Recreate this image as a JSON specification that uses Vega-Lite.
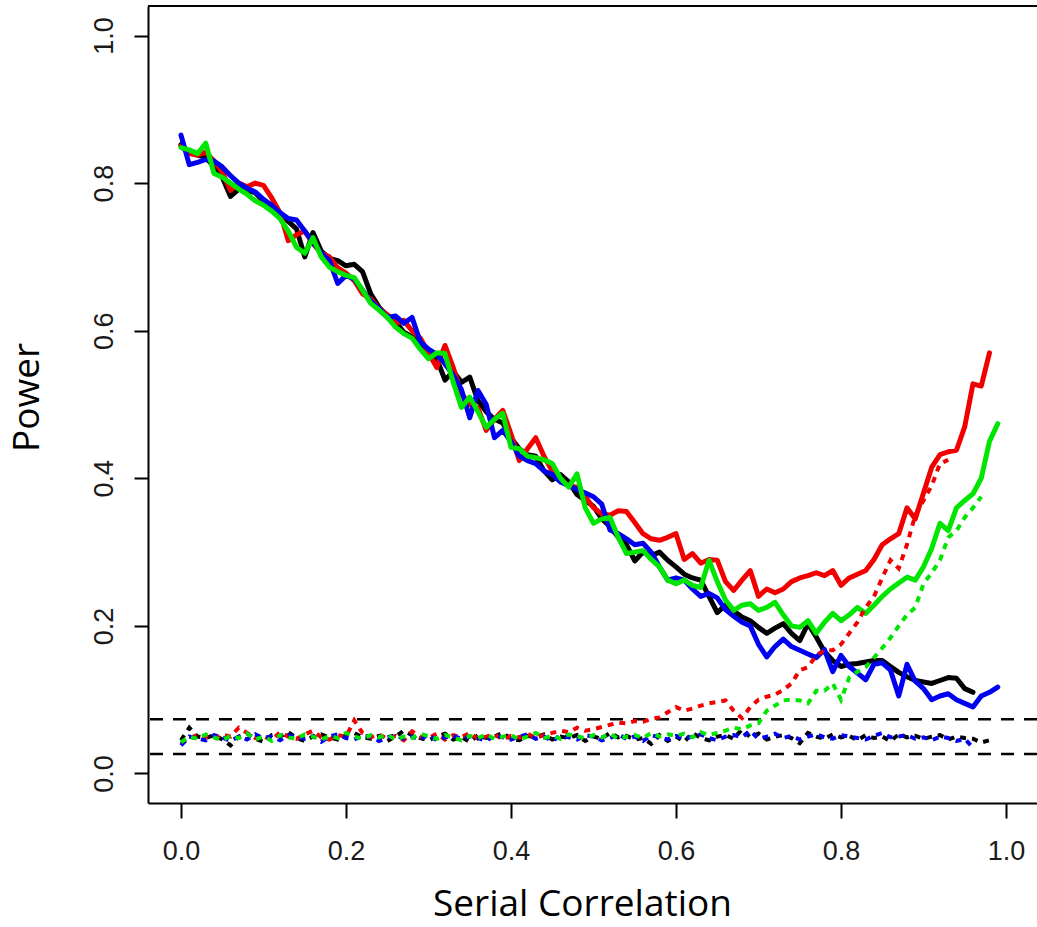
{
"$schema": "https://vega.github.io/schema/vega-lite/v6.json",
"width": 889, "height": 797,
"autosize": {"type": "none"},
"padding": {"left": 148, "top": 6, "right": 0, "bottom": 124},
"background": "white",
"config": {"view": {"stroke": null},
  "axis": {"grid": false, "domainColor": "black", "domainWidth": 2, "tickColor": "black", "tickWidth": 2,
    "labelFont": "Liberation Sans", "labelFontSize": 27, "labelColor": "#1a1a1a",
    "titleFont": "Open Sans", "titleFontSize": 37, "titleFontWeight": "normal", "titleColor": "black"}},
"datasets": {
"bounds": [{"h": 0.0265}, {"h": 0.0735}],
"sim": [
{"x":0.00,"k":0.852,"r":0.850,"b":0.865,"g":0.848,"kd":0.045,"rd":0.040,"bd":0.038,"gd":0.042},
{"x":0.01,"k":0.842,"r":0.840,"b":0.825,"g":0.845,"kd":0.062,"rd":0.048,"bd":0.050,"gd":0.050},
{"x":0.02,"k":0.838,"r":0.838,"b":0.828,"g":0.840,"kd":0.050,"rd":0.052,"bd":0.047,"gd":0.047},
{"x":0.03,"k":0.835,"r":0.842,"b":0.832,"g":0.854,"kd":0.048,"rd":0.050,"bd":0.045,"gd":0.053},
{"x":0.04,"k":0.822,"r":0.830,"b":0.830,"g":0.813,"kd":0.052,"rd":0.047,"bd":0.052,"gd":0.049},
{"x":0.05,"k":0.808,"r":0.815,"b":0.822,"g":0.808,"kd":0.046,"rd":0.053,"bd":0.049,"gd":0.045},
{"x":0.06,"k":0.782,"r":0.790,"b":0.810,"g":0.800,"kd":0.038,"rd":0.050,"bd":0.044,"gd":0.051},
{"x":0.07,"k":0.792,"r":0.800,"b":0.800,"g":0.792,"kd":0.050,"rd":0.062,"bd":0.050,"gd":0.048},
{"x":0.08,"k":0.790,"r":0.795,"b":0.793,"g":0.785,"kd":0.054,"rd":0.055,"bd":0.046,"gd":0.054},
{"x":0.09,"k":0.787,"r":0.800,"b":0.788,"g":0.776,"kd":0.047,"rd":0.048,"bd":0.053,"gd":0.046},
{"x":0.10,"k":0.775,"r":0.797,"b":0.778,"g":0.770,"kd":0.043,"rd":0.051,"bd":0.048,"gd":0.050},
{"x":0.11,"k":0.768,"r":0.780,"b":0.770,"g":0.762,"kd":0.052,"rd":0.045,"bd":0.050,"gd":0.044},
{"x":0.12,"k":0.758,"r":0.760,"b":0.760,"g":0.752,"kd":0.050,"rd":0.056,"bd":0.045,"gd":0.052},
{"x":0.13,"k":0.748,"r":0.722,"b":0.752,"g":0.735,"kd":0.056,"rd":0.050,"bd":0.052,"gd":0.049},
{"x":0.14,"k":0.738,"r":0.730,"b":0.750,"g":0.713,"kd":0.048,"rd":0.047,"bd":0.049,"gd":0.047},
{"x":0.15,"k":0.700,"r":0.735,"b":0.735,"g":0.705,"kd":0.044,"rd":0.053,"bd":0.047,"gd":0.053},
{"x":0.16,"k":0.733,"r":0.718,"b":0.720,"g":0.726,"kd":0.050,"rd":0.058,"bd":0.051,"gd":0.050},
{"x":0.17,"k":0.708,"r":0.705,"b":0.705,"g":0.700,"kd":0.053,"rd":0.049,"bd":0.043,"gd":0.046},
{"x":0.18,"k":0.698,"r":0.700,"b":0.695,"g":0.686,"kd":0.049,"rd":0.046,"bd":0.050,"gd":0.051},
{"x":0.19,"k":0.695,"r":0.685,"b":0.664,"g":0.680,"kd":0.046,"rd":0.052,"bd":0.053,"gd":0.048},
{"x":0.20,"k":0.688,"r":0.678,"b":0.675,"g":0.675,"kd":0.052,"rd":0.050,"bd":0.048,"gd":0.055},
{"x":0.21,"k":0.690,"r":0.668,"b":0.670,"g":0.672,"kd":0.055,"rd":0.072,"bd":0.046,"gd":0.050},
{"x":0.22,"k":0.680,"r":0.650,"b":0.655,"g":0.655,"kd":0.049,"rd":0.055,"bd":0.051,"gd":0.047},
{"x":0.23,"k":0.650,"r":0.643,"b":0.640,"g":0.637,"kd":0.047,"rd":0.049,"bd":0.050,"gd":0.052},
{"x":0.24,"k":0.632,"r":0.630,"b":0.630,"g":0.628,"kd":0.051,"rd":0.053,"bd":0.044,"gd":0.049},
{"x":0.25,"k":0.620,"r":0.622,"b":0.618,"g":0.618,"kd":0.044,"rd":0.047,"bd":0.049,"gd":0.053},
{"x":0.26,"k":0.612,"r":0.610,"b":0.620,"g":0.605,"kd":0.050,"rd":0.051,"bd":0.052,"gd":0.046},
{"x":0.27,"k":0.598,"r":0.614,"b":0.610,"g":0.596,"kd":0.058,"rd":0.045,"bd":0.047,"gd":0.050},
{"x":0.28,"k":0.592,"r":0.600,"b":0.618,"g":0.590,"kd":0.052,"rd":0.057,"bd":0.050,"gd":0.048},
{"x":0.29,"k":0.580,"r":0.590,"b":0.585,"g":0.575,"kd":0.048,"rd":0.050,"bd":0.046,"gd":0.054},
{"x":0.30,"k":0.570,"r":0.570,"b":0.575,"g":0.562,"kd":0.045,"rd":0.048,"bd":0.053,"gd":0.050},
{"x":0.31,"k":0.562,"r":0.550,"b":0.568,"g":0.570,"kd":0.050,"rd":0.054,"bd":0.045,"gd":0.047},
{"x":0.32,"k":0.533,"r":0.580,"b":0.555,"g":0.569,"kd":0.054,"rd":0.046,"bd":0.049,"gd":0.052},
{"x":0.33,"k":0.545,"r":0.550,"b":0.540,"g":0.530,"kd":0.046,"rd":0.052,"bd":0.051,"gd":0.049},
{"x":0.34,"k":0.530,"r":0.515,"b":0.520,"g":0.496,"kd":0.049,"rd":0.049,"bd":0.047,"gd":0.045},
{"x":0.35,"k":0.537,"r":0.500,"b":0.482,"g":0.510,"kd":0.043,"rd":0.055,"bd":0.050,"gd":0.051},
{"x":0.36,"k":0.505,"r":0.495,"b":0.519,"g":0.490,"kd":0.052,"rd":0.047,"bd":0.048,"gd":0.048},
{"x":0.37,"k":0.490,"r":0.465,"b":0.500,"g":0.469,"kd":0.048,"rd":0.050,"bd":0.044,"gd":0.053},
{"x":0.38,"k":0.480,"r":0.480,"b":0.455,"g":0.480,"kd":0.050,"rd":0.053,"bd":0.052,"gd":0.047},
{"x":0.39,"k":0.475,"r":0.492,"b":0.465,"g":0.488,"kd":0.055,"rd":0.046,"bd":0.049,"gd":0.050},
{"x":0.40,"k":0.455,"r":0.460,"b":0.450,"g":0.442,"kd":0.047,"rd":0.051,"bd":0.046,"gd":0.052},
{"x":0.41,"k":0.440,"r":0.424,"b":0.430,"g":0.440,"kd":0.045,"rd":0.049,"bd":0.050,"gd":0.046},
{"x":0.42,"k":0.432,"r":0.440,"b":0.424,"g":0.430,"kd":0.051,"rd":0.054,"bd":0.053,"gd":0.050},
{"x":0.43,"k":0.430,"r":0.455,"b":0.420,"g":0.428,"kd":0.049,"rd":0.048,"bd":0.047,"gd":0.055},
{"x":0.44,"k":0.410,"r":0.430,"b":0.410,"g":0.425,"kd":0.053,"rd":0.052,"bd":0.050,"gd":0.048},
{"x":0.45,"k":0.398,"r":0.410,"b":0.405,"g":0.420,"kd":0.046,"rd":0.055,"bd":0.044,"gd":0.051},
{"x":0.46,"k":0.405,"r":0.397,"b":0.395,"g":0.400,"kd":0.050,"rd":0.058,"bd":0.051,"gd":0.047},
{"x":0.47,"k":0.395,"r":0.390,"b":0.390,"g":0.388,"kd":0.048,"rd":0.056,"bd":0.049,"gd":0.053},
{"x":0.48,"k":0.378,"r":0.388,"b":0.385,"g":0.406,"kd":0.052,"rd":0.062,"bd":0.046,"gd":0.050},
{"x":0.49,"k":0.370,"r":0.375,"b":0.380,"g":0.360,"kd":0.044,"rd":0.058,"bd":0.052,"gd":0.048},
{"x":0.50,"k":0.362,"r":0.360,"b":0.375,"g":0.339,"kd":0.050,"rd":0.060,"bd":0.050,"gd":0.052},
{"x":0.51,"k":0.345,"r":0.352,"b":0.365,"g":0.345,"kd":0.047,"rd":0.063,"bd":0.045,"gd":0.049},
{"x":0.52,"k":0.335,"r":0.350,"b":0.330,"g":0.347,"kd":0.055,"rd":0.066,"bd":0.048,"gd":0.054},
{"x":0.53,"k":0.320,"r":0.356,"b":0.325,"g":0.320,"kd":0.049,"rd":0.069,"bd":0.053,"gd":0.047},
{"x":0.54,"k":0.310,"r":0.355,"b":0.318,"g":0.298,"kd":0.051,"rd":0.068,"bd":0.047,"gd":0.050},
{"x":0.55,"k":0.288,"r":0.340,"b":0.310,"g":0.300,"kd":0.046,"rd":0.071,"bd":0.050,"gd":0.052},
{"x":0.56,"k":0.300,"r":0.325,"b":0.312,"g":0.302,"kd":0.048,"rd":0.070,"bd":0.044,"gd":0.048},
{"x":0.57,"k":0.295,"r":0.318,"b":0.300,"g":0.290,"kd":0.040,"rd":0.074,"bd":0.052,"gd":0.055},
{"x":0.58,"k":0.300,"r":0.316,"b":0.280,"g":0.280,"kd":0.052,"rd":0.076,"bd":0.049,"gd":0.050},
{"x":0.59,"k":0.289,"r":0.320,"b":0.262,"g":0.262,"kd":0.044,"rd":0.083,"bd":0.046,"gd":0.053},
{"x":0.60,"k":0.280,"r":0.325,"b":0.265,"g":0.257,"kd":0.050,"rd":0.090,"bd":0.051,"gd":0.051},
{"x":0.61,"k":0.270,"r":0.290,"b":0.262,"g":0.262,"kd":0.043,"rd":0.085,"bd":0.047,"gd":0.054},
{"x":0.62,"k":0.265,"r":0.298,"b":0.250,"g":0.255,"kd":0.055,"rd":0.088,"bd":0.050,"gd":0.049},
{"x":0.63,"k":0.262,"r":0.285,"b":0.240,"g":0.252,"kd":0.048,"rd":0.092,"bd":0.053,"gd":0.056},
{"x":0.64,"k":0.240,"r":0.290,"b":0.244,"g":0.289,"kd":0.045,"rd":0.095,"bd":0.048,"gd":0.052},
{"x":0.65,"k":0.218,"r":0.289,"b":0.238,"g":0.260,"kd":0.050,"rd":0.097,"bd":0.045,"gd":0.055},
{"x":0.66,"k":0.228,"r":0.260,"b":0.222,"g":0.235,"kd":0.052,"rd":0.099,"bd":0.050,"gd":0.058},
{"x":0.67,"k":0.220,"r":0.248,"b":0.213,"g":0.221,"kd":0.047,"rd":0.085,"bd":0.052,"gd":0.062},
{"x":0.68,"k":0.212,"r":0.262,"b":0.205,"g":0.228,"kd":0.060,"rd":0.075,"bd":0.049,"gd":0.060},
{"x":0.69,"k":0.207,"r":0.275,"b":0.200,"g":0.230,"kd":0.049,"rd":0.090,"bd":0.058,"gd":0.065},
{"x":0.70,"k":0.198,"r":0.240,"b":0.175,"g":0.221,"kd":0.054,"rd":0.100,"bd":0.047,"gd":0.068},
{"x":0.71,"k":0.190,"r":0.250,"b":0.158,"g":0.225,"kd":0.046,"rd":0.104,"bd":0.050,"gd":0.085},
{"x":0.72,"k":0.197,"r":0.245,"b":0.172,"g":0.232,"kd":0.050,"rd":0.107,"bd":0.054,"gd":0.092},
{"x":0.73,"k":0.203,"r":0.250,"b":0.182,"g":0.215,"kd":0.052,"rd":0.113,"bd":0.048,"gd":0.099},
{"x":0.74,"k":0.190,"r":0.260,"b":0.172,"g":0.200,"kd":0.048,"rd":0.122,"bd":0.051,"gd":0.100},
{"x":0.75,"k":0.180,"r":0.265,"b":0.167,"g":0.198,"kd":0.041,"rd":0.140,"bd":0.046,"gd":0.099},
{"x":0.76,"k":0.203,"r":0.268,"b":0.162,"g":0.207,"kd":0.055,"rd":0.144,"bd":0.050,"gd":0.095},
{"x":0.77,"k":0.185,"r":0.272,"b":0.157,"g":0.190,"kd":0.050,"rd":0.160,"bd":0.053,"gd":0.112},
{"x":0.78,"k":0.165,"r":0.268,"b":0.168,"g":0.205,"kd":0.047,"rd":0.167,"bd":0.049,"gd":0.112},
{"x":0.79,"k":0.153,"r":0.275,"b":0.138,"g":0.217,"kd":0.053,"rd":0.167,"bd":0.047,"gd":0.122},
{"x":0.80,"k":0.145,"r":0.255,"b":0.160,"g":0.207,"kd":0.049,"rd":0.175,"bd":0.052,"gd":0.100},
{"x":0.81,"k":0.148,"r":0.265,"b":0.145,"g":0.215,"kd":0.051,"rd":0.190,"bd":0.050,"gd":0.130},
{"x":0.82,"k":0.149,"r":0.270,"b":0.136,"g":0.225,"kd":0.045,"rd":0.205,"bd":0.048,"gd":0.138},
{"x":0.83,"k":0.151,"r":0.275,"b":0.127,"g":0.217,"kd":0.052,"rd":0.225,"bd":0.046,"gd":0.144},
{"x":0.84,"k":0.153,"r":0.290,"b":0.148,"g":0.228,"kd":0.048,"rd":0.240,"bd":0.051,"gd":0.157},
{"x":0.85,"k":0.153,"r":0.310,"b":0.150,"g":0.240,"kd":0.050,"rd":0.265,"bd":0.055,"gd":0.170},
{"x":0.86,"k":0.145,"r":0.318,"b":0.140,"g":0.250,"kd":0.044,"rd":0.289,"bd":0.049,"gd":0.184},
{"x":0.87,"k":0.137,"r":0.325,"b":0.105,"g":0.258,"kd":0.053,"rd":0.278,"bd":0.050,"gd":0.200},
{"x":0.88,"k":0.131,"r":0.360,"b":0.148,"g":0.266,"kd":0.049,"rd":0.310,"bd":0.052,"gd":0.215},
{"x":0.89,"k":0.126,"r":0.345,"b":0.125,"g":0.262,"kd":0.051,"rd":0.350,"bd":0.047,"gd":0.225},
{"x":0.90,"k":0.124,"r":0.380,"b":0.115,"g":0.280,"kd":0.047,"rd":0.370,"bd":0.049,"gd":0.257},
{"x":0.91,"k":0.122,"r":0.415,"b":0.100,"g":0.305,"kd":0.050,"rd":0.390,"bd":0.045,"gd":0.272},
{"x":0.92,"k":0.126,"r":0.432,"b":0.105,"g":0.339,"kd":0.052,"rd":0.420,"bd":0.050,"gd":0.289},
{"x":0.93,"k":0.130,"r":0.436,"b":0.108,"g":0.329,"kd":0.046,"rd":0.425,"bd":0.048,"gd":0.320},
{"x":0.94,"k":0.129,"r":0.438,"b":0.100,"g":0.360,"kd":0.050,"bd":0.044,"gd":0.329},
{"x":0.95,"k":0.115,"r":0.470,"b":0.095,"g":0.370,"kd":0.048,"bd":0.047,"gd":0.347},
{"x":0.96,"k":0.110,"r":0.528,"b":0.090,"g":0.379,"kd":0.047,"bd":0.035,"gd":0.360},
{"x":0.97,"r":0.525,"b":0.105,"g":0.400,"kd":0.042,"gd":0.375},
{"x":0.98,"r":0.570,"b":0.110,"g":0.450,"kd":0.045},
{"x":0.99,"b":0.117,"g":0.474}
]},
"layer": [
{"data": {"name": "bounds"},
 "mark": {"type": "rule", "color": "black", "strokeWidth": 2.5, "strokeDash": [13, 10]},
 "encoding": {"y": {"field": "h", "type": "quantitative",
   "scale": {"domain": [-0.04, 1.04], "nice": false, "zero": false},
   "axis": {"values": [0, 0.2, 0.4, 0.6, 0.8, 1.0], "format": ".1f", "tickSize": 14,
     "labelAngle": -90, "labelAlign": "center", "labelBaseline": "alphabetic", "labelPadding": 22,
     "title": "Power", "titleAngle": -90, "titleX": -110, "titleY": 391, "titleAlign": "center", "titleBaseline": "alphabetic"}}}},
{"data": {"values": [{}]},
 "mark": {"type": "rule", "color": "black", "strokeWidth": 2},
 "encoding": {"y": {"datum": 1.04, "type": "quantitative", "scale": {"domain": [-0.04, 1.04], "nice": false, "zero": false}, "title": "Power"}}},
{"data": {"name": "sim"},
 "transform": [{"fold": ["k", "r", "b", "g"], "as": ["s", "v"]}, {"filter": {"field": "v", "valid": true}}],
 "mark": {"type": "line", "strokeWidth": 5, "strokeJoin": "round", "strokeCap": "round"},
 "encoding": {
  "x": {"field": "x", "type": "quantitative",
   "scale": {"domain": [-0.04, 1.0376], "nice": false, "zero": false},
   "axis": {"values": [0, 0.2, 0.4, 0.6, 0.8, 1.0], "format": ".1f", "tickSize": 15,
     "labelBaseline": "alphabetic", "labelPadding": 41, "labelFlush": false, "labelOverlap": false,
     "title": "Serial Correlation", "titleX": 434, "titleY": 112, "titleAlign": "center", "titleBaseline": "alphabetic"}},
  "y": {"field": "v", "type": "quantitative", "scale": {"domain": [-0.04, 1.04], "nice": false, "zero": false}, "title": "Power"},
  "color": {"field": "s", "type": "nominal", "legend": null,
   "scale": {"domain": ["k", "r", "b", "g", "kd", "rd", "bd", "gd"],
     "range": ["#000000", "#f20000", "#0000f0", "#00e600", "#000000", "#f20000", "#0000f0", "#00e600"]}}}},
{"data": {"name": "sim"},
 "transform": [{"fold": ["kd", "rd", "bd", "gd"], "as": ["s", "v"]}, {"filter": {"field": "v", "valid": true}}],
 "mark": {"type": "line", "strokeWidth": 4, "strokeDash": [6, 6]},
 "encoding": {
  "x": {"field": "x", "type": "quantitative", "scale": {"domain": [-0.04, 1.0376], "nice": false, "zero": false}, "title": "Serial Correlation"},
  "y": {"field": "v", "type": "quantitative", "scale": {"domain": [-0.04, 1.04], "nice": false, "zero": false}, "title": "Power"},
  "color": {"field": "s", "type": "nominal", "legend": null,
   "scale": {"domain": ["k", "r", "b", "g", "kd", "rd", "bd", "gd"],
     "range": ["#000000", "#f20000", "#0000f0", "#00e600", "#000000", "#f20000", "#0000f0", "#00e600"]}}}}
]
}
